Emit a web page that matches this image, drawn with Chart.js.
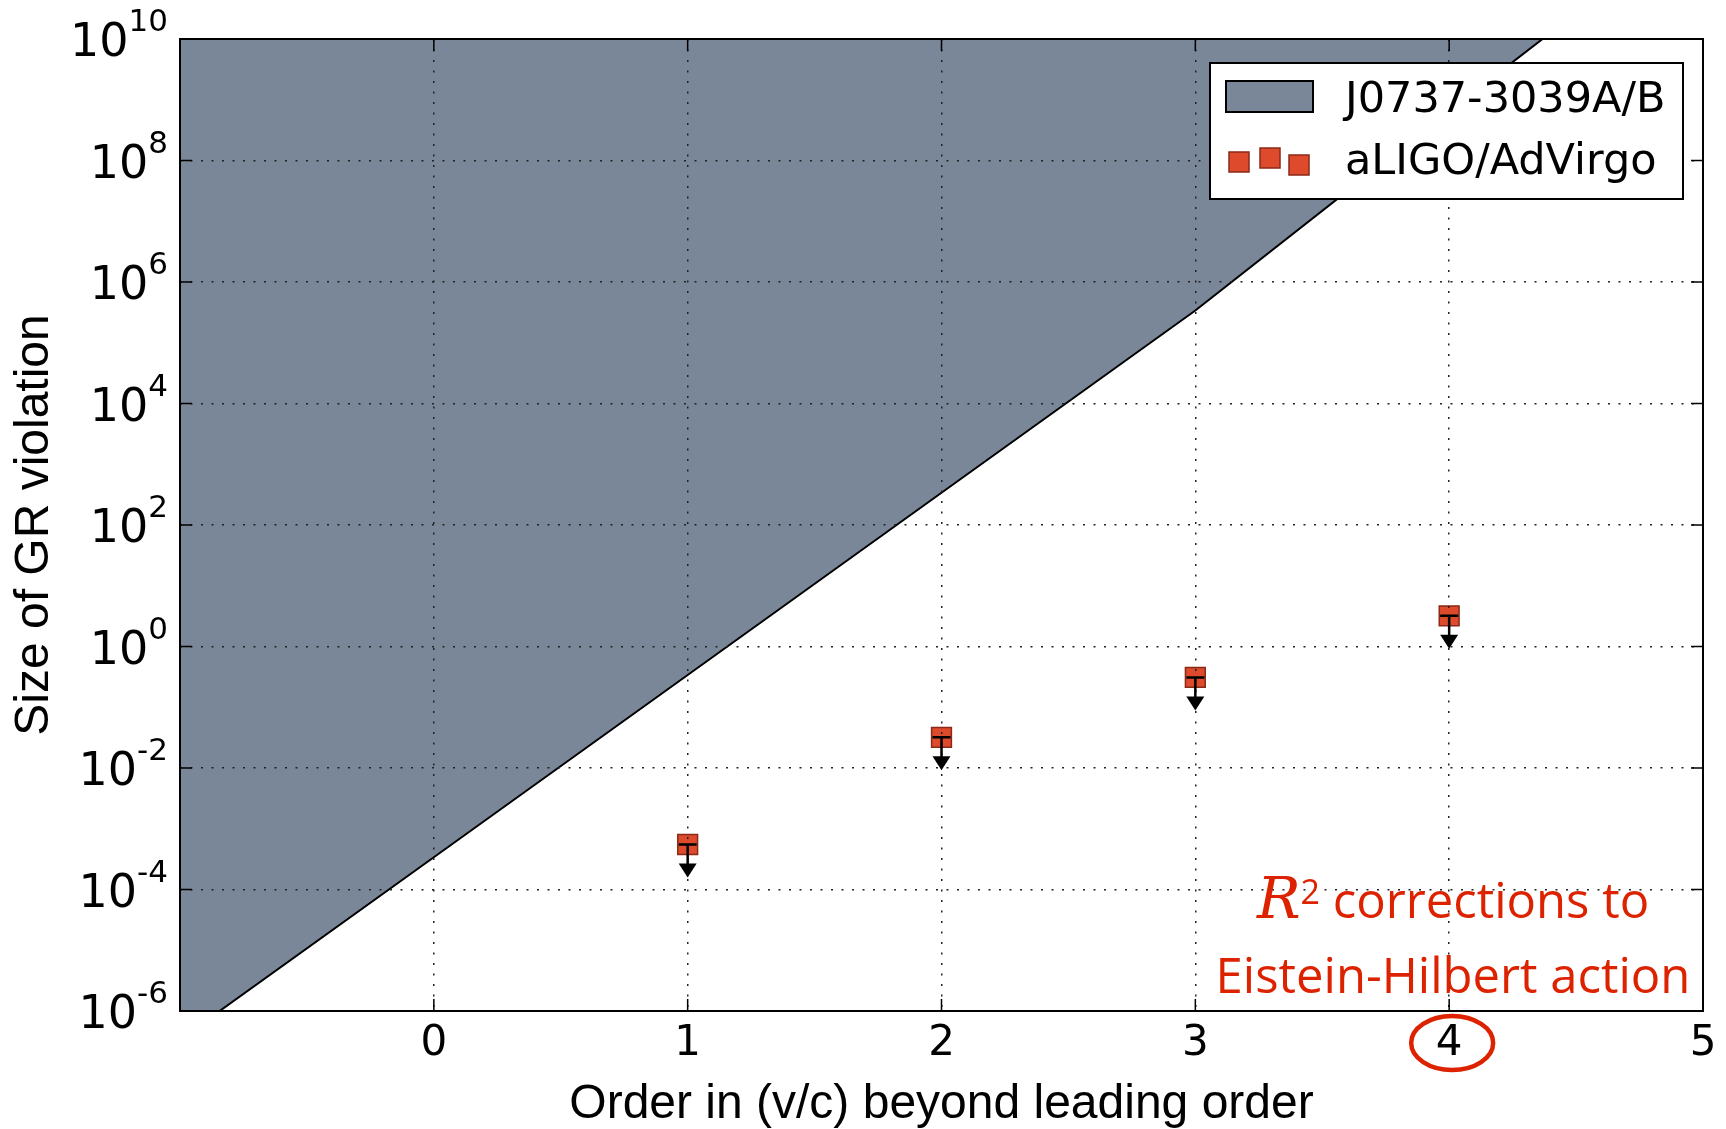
<!DOCTYPE html>
<html>
<head>
<meta charset="utf-8">
<script src="https://cdn.jsdelivr.net/npm/chart.js@4.4.1/dist/chart.umd.min.js"></script>
<style>
  html, body { margin: 0; padding: 0; background: #fff; }
  #chart { display: block; }
</style>
</head>
<body>
<canvas id="chart" width="1726" height="1129"></canvas>
<script>
  // pulsar bound (upper edge of the excluded band)
  const pulsarOrders = [-1, 0, 1, 2, 3, 4, 5];
  const pulsarBound = [3.4e-7, 3.4e-4, 0.34, 340, 3.4e5, 6.5e8, 1.1e12];

  // aLIGO/AdVirgo upper limits
  const ligoOrders = [1, 2, 3, 4];
  const ligoBound = [5.5e-4, 0.032, 0.31, 3.2];

  const xTicks = [0, 1, 2, 3, 4, 5];
  const yExponents = [-6, -4, -2, 0, 2, 4, 6, 8, 10];

  const legendLabels = ['J0737-3039A/B', 'aLIGO/AdVirgo'];
  const xTitle = 'Order in (v/c) beyond leading order';
  const yTitle = 'Size of GR violation';
  const noteLine1 = ' corrections to';
  const noteLine2 = 'Eistein-Hilbert action';
  const circledTick = 4;

  const bandColor = 'rgb(122, 135, 153)';
  const markerFill = '#dd4a2c';
  const markerEdge = '#8a2a18';
  const noteRed = '#dd2200';

  // drawn last so it sits over the grid (grid uses z: 1)
  const overlay = {
    id: 'overlay',
    afterDraw(chart) {
      const ctx = chart.ctx;
      const area = chart.chartArea;
      const xs = chart.scales.x;
      const ys = chart.scales.y;

      ctx.save();

      // one-sided error bars (arrows pointing down)
      ctx.strokeStyle = '#000';
      ctx.fillStyle = '#000';
      ctx.lineWidth = 2.5;
      ligoOrders.forEach((o, i) => {
        const cx = xs.getPixelForValue(o);
        const cy = ys.getPixelForValue(ligoBound[i]);
        ctx.beginPath();
        ctx.moveTo(cx - 9, cy);
        ctx.lineTo(cx + 9, cy);
        ctx.moveTo(cx, cy);
        ctx.lineTo(cx, cy + 20);
        ctx.stroke();
        ctx.beginPath();
        ctx.moveTo(cx - 9, cy + 19);
        ctx.lineTo(cx + 9, cy + 19);
        ctx.lineTo(cx, cy + 33);
        ctx.closePath();
        ctx.fill();
      });

      // frame and inward ticks on all four sides
      ctx.lineWidth = 2;
      ctx.strokeRect(area.left, area.top, area.right - area.left, area.bottom - area.top);
      ctx.lineWidth = 1.5;
      ctx.beginPath();
      xTicks.forEach((t) => {
        const px = xs.getPixelForValue(t);
        ctx.moveTo(px, area.bottom);
        ctx.lineTo(px, area.bottom - 12);
        ctx.moveTo(px, area.top);
        ctx.lineTo(px, area.top + 12);
      });
      yExponents.forEach((e) => {
        const py = ys.getPixelForValue(Math.pow(10, e));
        ctx.moveTo(area.left, py);
        ctx.lineTo(area.left + 12, py);
        ctx.moveTo(area.right, py);
        ctx.lineTo(area.right - 12, py);
      });
      ctx.stroke();

      // tick labels
      ctx.fillStyle = '#000';
      ctx.font = '42px "DejaVu Sans"';
      ctx.textAlign = 'center';
      ctx.textBaseline = 'alphabetic';
      xTicks.forEach((t) => {
        ctx.fillText(String(t), xs.getPixelForValue(t), area.bottom + 44);
      });

      ctx.textAlign = 'left';
      yExponents.forEach((e) => {
        const py = ys.getPixelForValue(Math.pow(10, e));
        const exp = String(e);
        ctx.font = '31px "DejaVu Sans"';
        const expW = ctx.measureText(exp).width;
        ctx.font = '46px "DejaVu Sans"';
        const baseW = ctx.measureText('10').width;
        const right = area.left - 12;
        ctx.fillText('10', right - expW - baseW, py + 17);
        ctx.font = '31px "DejaVu Sans"';
        ctx.fillText(exp, right - expW, py - 8);
      });

      // axis titles
      ctx.font = '48px "Liberation Sans"';
      ctx.textAlign = 'center';
      ctx.fillText(xTitle, (area.left + area.right) / 2, 1118);
      ctx.save();
      ctx.translate(48, (area.top + area.bottom) / 2);
      ctx.rotate(-Math.PI / 2);
      ctx.fillText(yTitle, 0, 0);
      ctx.restore();

      // legend
      ctx.fillStyle = '#fff';
      ctx.fillRect(1210, 63, 473, 136);
      ctx.lineWidth = 2;
      ctx.strokeStyle = '#000';
      ctx.strokeRect(1210, 63, 473, 136);
      ctx.fillStyle = bandColor;
      ctx.fillRect(1226, 81, 87, 31);
      ctx.strokeRect(1226, 81, 87, 31);
      ctx.fillStyle = markerFill;
      ctx.strokeStyle = markerEdge;
      ctx.lineWidth = 1.5;
      [[1229, 152], [1260, 148], [1289, 155]].forEach(([x, y]) => {
        ctx.fillRect(x, y, 20, 20);
        ctx.strokeRect(x, y, 20, 20);
      });
      ctx.fillStyle = '#000';
      ctx.font = '43px "DejaVu Sans"';
      ctx.textAlign = 'left';
      ctx.fillText(legendLabels[0], 1345, 112);
      ctx.fillText(legendLabels[1], 1345, 174);

      // red annotation
      const noteX = 1453;
      ctx.fillStyle = noteRed;
      ctx.font = '49px "Open Sans"';
      ctx.textAlign = 'center';
      ctx.fillText(noteLine2, noteX, 993);

      ctx.textAlign = 'left';
      ctx.font = 'italic 58px "DejaVu Serif"';
      const rW = ctx.measureText('R').width;
      ctx.font = '34px "Open Sans"';
      const sW = ctx.measureText('2').width;
      ctx.font = '49px "Open Sans"';
      const tW = ctx.measureText(noteLine1).width;
      const x0 = noteX - (rW + sW + tW) / 2;
      ctx.font = 'italic 58px "DejaVu Serif"';
      ctx.fillText('R', x0, 918);
      ctx.font = '34px "Open Sans"';
      ctx.fillText('2', x0 + rW, 904);
      ctx.font = '49px "Open Sans"';
      ctx.fillText(noteLine1, x0 + rW + sW, 918);

      ctx.strokeStyle = noteRed;
      ctx.lineWidth = 4.5;
      ctx.beginPath();
      ctx.ellipse(xs.getPixelForValue(circledTick) + 3, 1043, 41, 27, 0, 0, Math.PI * 2);
      ctx.stroke();

      ctx.restore();
    }
  };

  const gridStyle = {
    color: '#222',
    lineWidth: 1.5,
    drawTicks: false,
    z: 1
  };

  new Chart(document.getElementById('chart'), {
    type: 'line',
    data: {
      datasets: [{
        label: legendLabels[0],
        data: pulsarOrders.map((o, i) => ({ x: o, y: pulsarBound[i] })),
        borderColor: '#000',
        borderWidth: 2,
        backgroundColor: bandColor,
        fill: 'end',
        pointRadius: 0,
        tension: 0,
        order: 2
      }, {
        type: 'scatter',
        label: legendLabels[1],
        data: ligoOrders.map((o, i) => ({ x: o, y: ligoBound[i] })),
        pointStyle: 'rect',
        pointRadius: 14,
        backgroundColor: markerFill,
        borderColor: markerEdge,
        borderWidth: 1.5,
        order: 1
      }]
    },
    options: {
      responsive: false,
      animation: false,
      devicePixelRatio: 1,
      layout: { padding: { left: 180, top: 39, right: 23, bottom: 118 } },
      plugins: {
        legend: { display: false },
        tooltip: { enabled: false }
      },
      scales: {
        x: {
          type: 'linear',
          min: -1,
          max: 5,
          afterBuildTicks: (scale) => { scale.ticks = xTicks.map((v) => ({ value: v })); },
          ticks: { display: false },
          grid: gridStyle,
          border: { display: false, dash: [2, 8.5] }
        },
        y: {
          type: 'logarithmic',
          min: 1e-6,
          max: 1e10,
          afterBuildTicks: (scale) => { scale.ticks = yExponents.map((e) => ({ value: Math.pow(10, e) })); },
          ticks: { display: false },
          grid: gridStyle,
          border: { display: false, dash: [2, 8.5] }
        }
      }
    },
    plugins: [overlay]
  });
</script>
</body>
</html>
